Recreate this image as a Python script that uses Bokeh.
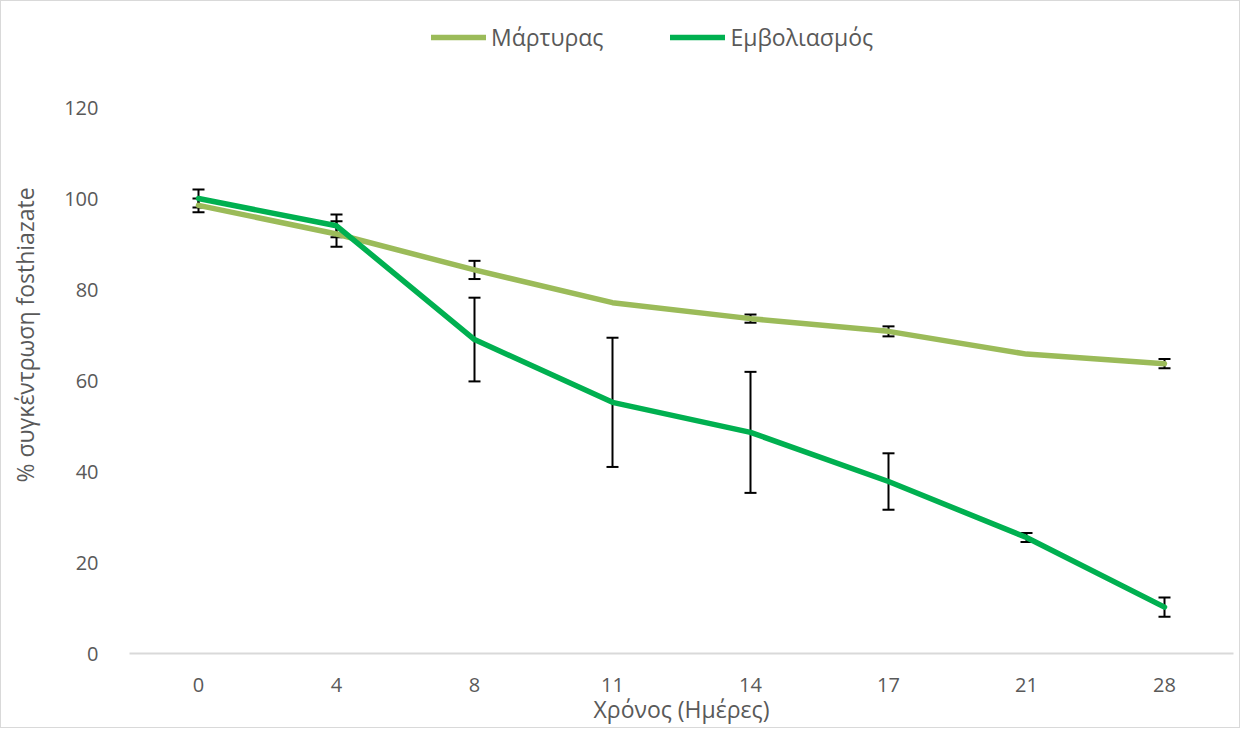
from bokeh.plotting import figure
from bokeh.models import ColumnDataSource, FactorRange, Range1d, Whisker, Legend, LegendItem, TeeHead, FixedTicker
from bokeh.embed import file_html
from bokeh.resources import INLINE

days = ["0", "4", "8", "11", "14", "17", "21", "28"]
control = [98.5, 92.2, 84.3, 77.1, 73.6, 70.8, 65.8, 63.7]
control_err = [1.5, 2.8, 2.0, 0.0, 0.9, 1.1, 0.0, 1.0]
vacc = [100.0, 94.0, 69.0, 55.2, 48.6, 37.8, 25.5, 10.2]
vacc_err = [2.0, 2.5, 9.2, 14.2, 13.3, 6.2, 1.0, 2.1]
y_ticks = [0, 20, 40, 60, 80, 100, 120]

FONT = "Open Sans"
GREY = "#595959"

p = figure(frame_width=1104, frame_height=637, x_range=FactorRange(*days, range_padding=0),
           y_range=Range1d(0, 140), output_backend="svg", toolbar_location=None,
           min_border_left=128, min_border_right=6, min_border_top=15, min_border_bottom=50)
p.styles = {"border": "1px solid #D9D9D9"}
p.outline_line_color = None
p.xgrid.grid_line_color = None
p.ygrid.grid_line_color = None

c_line = p.line(days, control, line_color="#9BBB59", line_width=5.5, line_join="round", line_cap="round")
v_line = p.line(days, vacc, line_color="#00B050", line_width=5.5, line_join="round", line_cap="round")

for vals, errs in ((control, control_err), (vacc, vacc_err)):
    d = [(x, v - e, v + e) for x, v, e in zip(days, vals, errs) if e > 0]
    src = ColumnDataSource(dict(x=[a[0] for a in d], lo=[a[1] for a in d], hi=[a[2] for a in d]))
    w = Whisker(base="x", lower="lo", upper="hi", source=src, line_color="black", line_width=2,
                upper_head=TeeHead(size=12, line_color="black", line_width=2),
                lower_head=TeeHead(size=12, line_color="black", line_width=2))
    p.add_layout(w)

p.yaxis.ticker = FixedTicker(ticks=y_ticks)
p.yaxis.axis_line_color = None
p.yaxis.major_tick_line_color = None
p.yaxis.minor_tick_line_color = None
p.yaxis.major_label_standoff = 25
p.yaxis.major_label_text_font = FONT
p.yaxis.major_label_text_font_size = "20px"
p.yaxis.major_label_text_color = GREY
p.yaxis.axis_label = "% συγκέντρωση fosthiazate"
p.yaxis.axis_label_text_font = FONT
p.yaxis.axis_label_text_font_size = "23px"
p.yaxis.axis_label_text_font_style = "normal"
p.yaxis.axis_label_text_color = GREY
p.yaxis.axis_label_standoff = 20

p.xaxis.axis_line_color = "#D9D9D9"
p.xaxis.axis_line_width = 2
p.xaxis.major_tick_line_color = None
p.xaxis.minor_tick_line_color = None
p.xaxis.major_label_standoff = 18
p.xaxis.major_label_text_font = FONT
p.xaxis.major_label_text_font_size = "20px"
p.xaxis.major_label_text_color = GREY
p.xaxis.axis_label = "Χρόνος (Ημέρες)"
p.xaxis.axis_label_text_font = FONT
p.xaxis.axis_label_text_font_size = "23px"
p.xaxis.axis_label_text_font_style = "normal"
p.xaxis.axis_label_text_color = GREY
p.xaxis.axis_label_standoff = -2

legend = Legend(items=[LegendItem(label="Μάρτυρας", renderers=[c_line]),
                       LegendItem(label="Εμβολιασμός", renderers=[v_line])],
                orientation="horizontal", location=(302, 600), padding=0, margin=0,
                spacing=67, glyph_width=55, glyph_height=24, label_standoff=5,
                label_text_font=FONT, label_text_font_size="23px", label_text_color=GREY,
                background_fill_alpha=0, border_line_color=None)
p.add_layout(legend)

open("out.html", "w").write(file_html(p, INLINE))
